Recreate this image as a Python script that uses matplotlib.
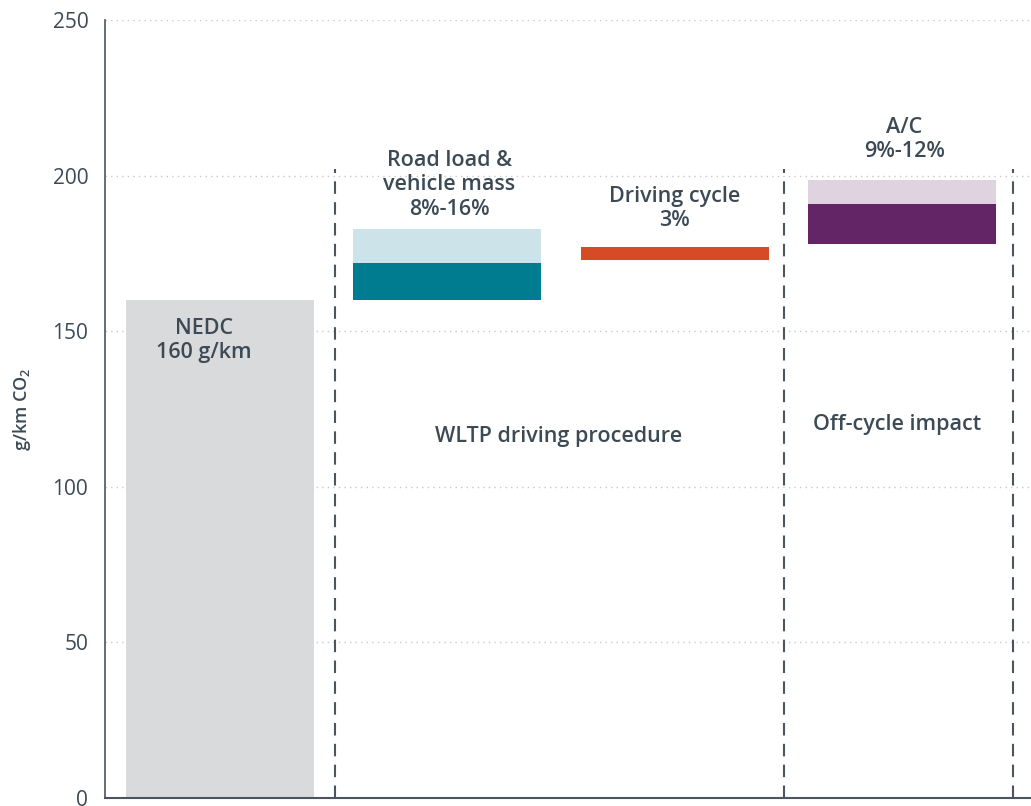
import matplotlib
matplotlib.use("Agg")
import numpy as np
import matplotlib.pyplot as plt

plt.rcParams['font.family'] = ['Open Sans', 'DejaVu Sans']
plt.rcParams['mathtext.default'] = 'regular'

# data (g/km CO2)
nedc = 160
base = [160, 160, 173, 178]          # bottom of each block
low_step = [0, 172, 177, 191]        # top of the dark part
high_step = [0, 183, 177, 198.5]     # top of the light part
labels = ["NEDC\n160 g/km", "Road load &\nvehicle mass\n8%-16%",
          "Driving cycle\n3%", "A/C\n9%-12%"]
yticks = [0, 50, 100, 150, 200, 250]

dark = ["#d9dadc", "#007c91", "#d64a26", "#642566"]
light = ["#d9dadc", "#cce4e9", "#d64a26", "#e0d3e0"]
txt = "#3c4a55"

fig = plt.figure(figsize=(10.31, 8.06), dpi=100)
ax = fig.add_axes([0.1018, 0.0099, 0.8982, 0.9653])

w = 0.827
ax.bar(0, nedc, width=w, color=dark[0], zorder=2)
for i in range(1, 4):
    ax.bar(i, low_step[i] - base[i], bottom=base[i], width=w, color=dark[i], zorder=2)
    if high_step[i] > low_step[i]:
        ax.bar(i, high_step[i] - low_step[i], bottom=low_step[i], width=w,
               color=light[i], zorder=2)

# separators
for xv in [0.506, 2.481, 3.489]:
    ax.plot([xv, xv], [0, 202], ls=(0, (6, 4)), color="#4a5560", lw=1.5, zorder=3)

# text
fs = 15.5
kw = dict(ha="center", va="center", fontsize=fs, fontweight="semibold",
          color=txt, linespacing=1.2)
ax.text(-0.07, 147, labels[0], zorder=4, **kw)
ax.text(1.01, 197, labels[1], **kw)
ax.text(2.0, 189.5, labels[2], **kw)
ax.text(3.01, 211.5, labels[3], **kw)
ax.text(1.49, 116.3, "WLTP driving procedure", **kw)
ax.text(2.98, 120, "Off-cycle impact", **kw)

ax.set_xlim(-0.506, 3.568)
ax.set_ylim(0, 250)
ax.set_yticks(yticks)
ax.set_xticks([])
ax.tick_params(axis="y", length=0, labelsize=15, labelcolor=txt, pad=12)
ax.yaxis.grid(True, ls=(0, (1, 3)), color="#c8c8c8", lw=1, zorder=0)
ax.set_axisbelow(True)
ax.set_ylabel("g/km CO$_2$", fontsize=13, fontweight="semibold", color=txt, labelpad=14)

for s in ["top", "right"]:
    ax.spines[s].set_visible(False)
ax.spines["left"].set_color("#4a5560")
ax.spines["bottom"].set_color("#4a5560")
ax.spines["left"].set_linewidth(1.2)
ax.spines["bottom"].set_linewidth(1.5)

fig.savefig("out.png", dpi=100)
